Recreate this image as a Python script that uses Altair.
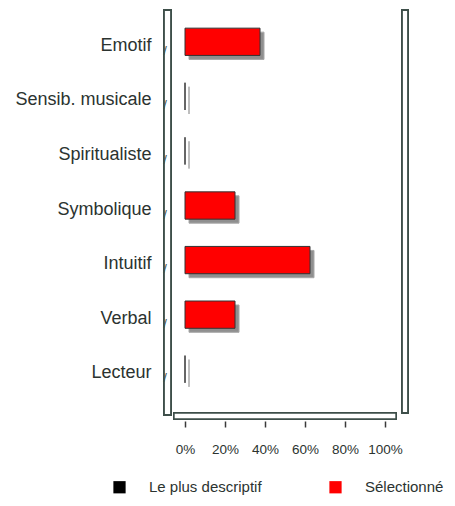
import altair as alt
import pandas as pd

categories = ["Emotif", "Sensib. musicale", "Spiritualiste", "Symbolique", "Intuitif", "Verbal", "Lecteur"]
selectionne = [0.375, 0.0, 0.0, 0.25, 0.625, 0.25, 0.0]
plus_descriptif = [0.0, 0.0, 0.0, 0.0, 0.0, 0.0, 0.0]
series_names = ["Le plus descriptif", "Sélectionné"]
series_colors = ["#000000", "#ff0000"]
x_ticks = [0, 0.2, 0.4, 0.6, 0.8, 1.0]

rows = []
for c, v in zip(categories, plus_descriptif):
    rows.append({"cat": c, "val": v, "serie": series_names[0]})
for c, v in zip(categories, selectionne):
    rows.append({"cat": c, "val": v, "serie": series_names[1]})
df = pd.DataFrame(rows)
red = df[df["serie"] == series_names[1]]

FONT = "Liberation Sans"
TXT = "#2b3330"
WALL = "#3e4f4a"

yscale = alt.Scale(domain=categories, paddingInner=0.5, paddingOuter=0.25)
xscale = alt.Scale(domain=[0, 1], nice=False)

y_enc = alt.Y("cat:N", scale=yscale, sort=categories,
              axis=alt.Axis(title=None, domain=False, ticks=False, labelPadding=34,
                            labelFont=FONT, labelFontSize=18, labelColor=TXT))

x_axis = alt.Axis(title=None, values=x_ticks, format=".0%", domain=False, grid=False,
                  ticks=True, offset=20.5, tickSize=6, tickColor="#3a3a3a", tickWidth=1.5,
                  tickOpacity=1, zindex=1,
                  labelOverlap=False, labelFlush=False, labelBound=False,
                  labelPadding=15, labelFont=FONT,
                  labelFontSize=13.5, labelColor=TXT)

base = alt.Chart(red)

# walls and floor (decoration)
left_wall = base.mark_rect(fill="white", stroke=WALL, strokeWidth=1.8).encode(
    x=alt.value(-21), x2=alt.value(-14), y=alt.value(-8.5), y2=alt.value(396.5))
right_wall = base.mark_rect(fill="white", stroke=WALL, strokeWidth=1.8).encode(
    x=alt.value(217), x2=alt.value(223), y=alt.value(-8.5), y2=alt.value(394.5))
floor = base.mark_rect(fill="white", stroke=WALL, strokeWidth=1.4).encode(
    x=alt.value(-11), x2=alt.value(211), y=alt.value(394.5), y2=alt.value(400.5))

slashes = base.mark_text(text="/", font=FONT, fontSize=13, color=WALL, dy=5).encode(
    y=y_enc, x=alt.value(-20))

shadow = base.mark_bar(color="#8f8f8f", stroke="#a8a8a8", strokeWidth=1,
                       xOffset=4, yOffset=0).encode(
    y=y_enc,
    x=alt.X("val:Q", scale=xscale, axis=x_axis),
)

bars = base.mark_bar(stroke="#333333", strokeWidth=1, yOffset=-4).encode(
    y=y_enc,
    x=alt.X("val:Q", scale=xscale, axis=x_axis),
    color=alt.Color("serie:N", scale=alt.Scale(domain=series_names, range=series_colors),
                    legend=alt.Legend(title=None, orient="none", legendX=-73, legendY=461,
                                      direction="horizontal", symbolType="square",
                                      symbolSize=150, symbolStrokeWidth=0,
                                      labelFont=FONT, labelFontSize=15, labelColor=TXT,
                                      labelOffset=22, columnPadding=66)),
)

chart = alt.layer(left_wall, right_wall, floor, slashes, shadow, bars).properties(
    width=200, height=382,
    background="white",
    autosize=alt.AutoSizeParams(type="none"),
    padding={"left": 177, "top": 10.5, "right": 62, "bottom": 96.5},
).configure_view(strokeWidth=0)

chart.save("out.html", embed_options={"renderer": "svg", "actions": False})
